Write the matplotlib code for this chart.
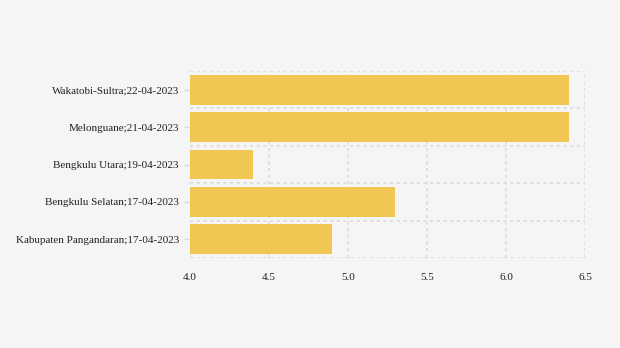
import numpy as np
import matplotlib.pyplot as plt
from matplotlib.ticker import FixedLocator

plt.rcParams['font.family'] = ['Liberation Serif', 'DejaVu Serif']

# Data
lokasi = ['Wakatobi-Sultra;22-04-2023', 'Melonguane;21-04-2023',
          'Bengkulu Utara;19-04-2023', 'Bengkulu Selatan;17-04-2023',
          'Kabupaten Pangandaran;17-04-2023']
magnitudo = [6.4, 6.4, 4.4, 5.3, 4.9]
x_ticks = [4.0, 4.5, 5.0, 5.5, 6.0, 6.5]

bg = '#f5f5f5'
fig = plt.figure(figsize=(6.2, 3.48), dpi=100, facecolor=bg)
ax = fig.add_axes([190 / 620, 90 / 348, 395 / 620, 187 / 348], facecolor=bg)

y = np.arange(len(lokasi))
ax.barh(y, [m - 4.0 for m in magnitudo], left=4.0, height=0.8,
        color='#f0c752', zorder=3)

ax.set_xlim(4.0, 6.5)
ax.set_ylim(len(lokasi) - 0.5, -0.5)
ax.set_xticks(x_ticks)
ax.set_xticklabels([f'{t:.1f}' for t in x_ticks])
ax.set_yticks(y)
ax.set_yticklabels(lokasi)
ax.yaxis.set_minor_locator(FixedLocator(np.arange(-0.5, len(lokasi), 1.0)))

# Dotted grid: vertical at ticks, horizontal between categories
ax.grid(axis='x', which='major', color='#dcdcdc', linestyle=(0, (2, 2)), linewidth=1.2, zorder=0)
ax.grid(axis='y', which='minor', color='#dcdcdc', linestyle=(0, (2, 2)), linewidth=1.2, zorder=0)
ax.grid(axis='y', which='major', visible=False)

for s in ax.spines.values():
    s.set_visible(False)

ax.tick_params(axis='x', length=0, pad=11, labelsize=8, labelcolor='#222222')
ax.tick_params(axis='y', which='major', length=4, width=1, color='#dddddd',
               pad=4, labelsize=8, labelcolor='#222222')
ax.tick_params(axis='y', which='minor', length=0)

fig.savefig('out.png', dpi=100, facecolor=bg)
